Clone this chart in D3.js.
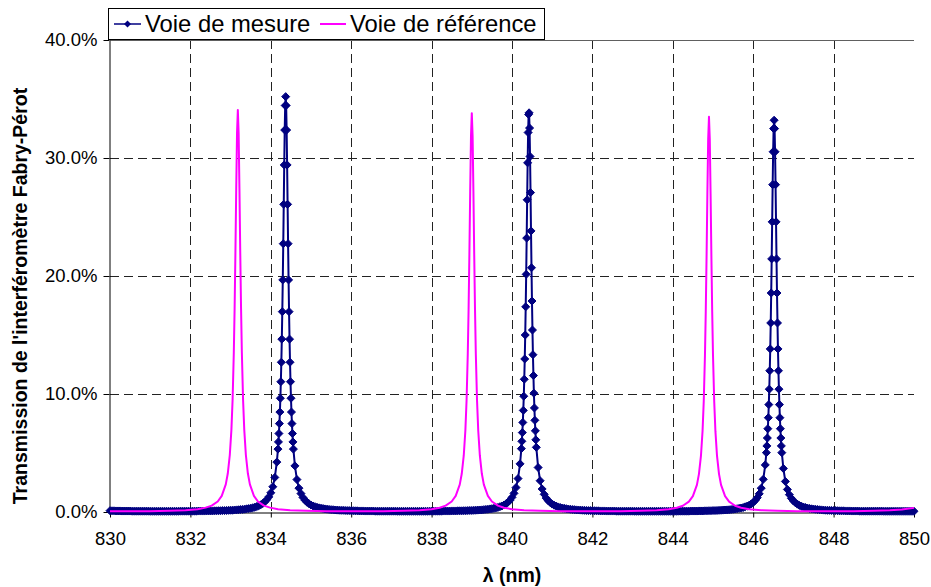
<!DOCTYPE html>
<html>
<head>
<meta charset="utf-8">
<script src="https://cdn.jsdelivr.net/npm/d3@7"></script>
<style>
  html, body { margin: 0; padding: 0; background: #fff; }
  svg { display: block; font-family: Arial, "Liberation Sans", sans-serif; }
</style>
</head>
<body>
<svg id="chart" width="931" height="587"></svg>
<script>
// Transmission spectra of the Fabry-Pérot interferometer (values in %)

// Measurement channel: wavelengths (nm)
const mesureLambda = [
  830.00,830.05,830.10,830.15,830.20,830.25,830.30,830.35,830.40,830.45,830.50,830.55,830.60,830.65,830.70,830.75,830.80,830.85,830.90,830.95,
  831.00,831.05,831.10,831.15,831.20,831.25,831.30,831.35,831.40,831.45,831.50,831.55,831.60,831.65,831.70,831.75,831.80,831.85,831.90,831.95,
  832.00,832.05,832.10,832.15,832.20,832.25,832.30,832.35,832.40,832.45,832.50,832.55,832.60,832.65,832.70,832.75,832.80,832.85,832.90,832.95,
  833.00,833.05,833.10,833.15,833.20,833.25,833.30,833.35,833.40,833.45,833.50,833.55,833.60,833.65,833.70,833.75,833.80,833.85,833.90,833.95,
  834.00,834.05,834.10,834.15,
  834.178,834.190,834.202,834.214,834.226,834.238,834.250,834.262,834.274,834.286,834.298,834.310,834.322,834.334,834.346,834.358,834.370,
  834.382,834.394,834.406,834.418,834.430,834.442,834.454,834.466,834.478,834.490,834.502,834.514,834.526,834.538,834.550,834.562,
  834.60,834.65,834.70,834.75,834.80,834.85,834.90,834.95,
  835.00,835.05,835.10,835.15,835.20,835.25,835.30,835.35,835.40,835.45,835.50,835.55,835.60,835.65,835.70,835.75,835.80,835.85,835.90,835.95,
  836.00,836.05,836.10,836.15,836.20,836.25,836.30,836.35,836.40,836.45,836.50,836.55,836.60,836.65,836.70,836.75,836.80,836.85,836.90,836.95,
  837.00,837.05,837.10,837.15,837.20,837.25,837.30,837.35,837.40,837.45,837.50,837.55,837.60,837.65,837.70,837.75,837.80,837.85,837.90,837.95,
  838.00,838.05,838.10,838.15,838.20,838.25,838.30,838.35,838.40,838.45,838.50,838.55,838.60,838.65,838.70,838.75,838.80,838.85,838.90,838.95,
  839.00,839.05,839.10,839.15,839.20,839.25,839.30,839.35,839.40,839.45,839.50,839.55,839.60,839.65,839.70,839.75,839.80,839.85,839.90,839.95,
  840.00,840.05,840.10,840.15,840.20,
  840.233,840.245,840.257,840.269,840.281,840.293,840.305,840.317,840.329,840.341,840.353,840.365,840.377,840.389,840.401,840.413,
  840.425,840.437,840.449,840.461,840.473,840.485,840.497,840.509,840.521,840.533,840.545,840.557,840.569,840.581,840.593,840.605,
  840.65,840.70,840.75,840.80,840.85,840.90,840.95,
  841.00,841.05,841.10,841.15,841.20,841.25,841.30,841.35,841.40,841.45,841.50,841.55,841.60,841.65,841.70,841.75,841.80,841.85,841.90,841.95,
  842.00,842.05,842.10,842.15,842.20,842.25,842.30,842.35,842.40,842.45,842.50,842.55,842.60,842.65,842.70,842.75,842.80,842.85,842.90,842.95,
  843.00,843.05,843.10,843.15,843.20,843.25,843.30,843.35,843.40,843.45,843.50,843.55,843.60,843.65,843.70,843.75,843.80,843.85,843.90,843.95,
  844.00,844.05,844.10,844.15,844.20,844.25,844.30,844.35,844.40,844.45,844.50,844.55,844.60,844.65,844.70,844.75,844.80,844.85,844.90,844.95,
  845.00,845.05,845.10,845.15,845.20,845.25,845.30,845.35,845.40,845.45,845.50,845.55,845.60,845.65,845.70,845.75,845.80,845.85,845.90,845.95,
  846.00,846.05,846.10,846.15,846.20,846.25,846.30,
  846.328,846.340,846.352,846.364,846.376,846.388,846.400,846.412,846.424,846.436,846.448,846.460,846.472,846.484,846.496,846.508,846.520,
  846.532,846.544,846.556,846.568,846.580,846.592,846.604,846.616,846.628,846.640,846.652,846.664,846.676,846.688,846.700,846.712,
  846.75,846.80,846.85,846.90,846.95,
  847.00,847.05,847.10,847.15,847.20,847.25,847.30,847.35,847.40,847.45,847.50,847.55,847.60,847.65,847.70,847.75,847.80,847.85,847.90,847.95,
  848.00,848.05,848.10,848.15,848.20,848.25,848.30,848.35,848.40,848.45,848.50,848.55,848.60,848.65,848.70,848.75,848.80,848.85,848.90,848.95,
  849.00,849.05,849.10,849.15,849.20,849.25,849.30,849.35,849.40,849.45,849.50,849.55,849.60,849.65,849.70,849.75,849.80,849.85,849.90,849.95,
  850.00
];

// Measurement channel: transmission (%)
const mesureT = [
  0.11,0.10,0.10,0.09,0.09,0.09,0.08,0.08,0.08,0.08,0.08,0.07,0.07,0.07,0.07,0.07,0.07,0.07,0.07,0.07,
  0.06,0.06,0.06,0.06,0.06,0.06,0.06,0.06,0.06,0.06,0.06,0.06,0.06,0.06,0.06,0.07,0.07,0.07,0.07,0.07,
  0.07,0.07,0.07,0.07,0.08,0.08,0.08,0.08,0.09,0.09,0.09,0.09,0.10,0.10,0.11,0.11,0.12,0.12,0.13,0.14,
  0.15,0.15,0.17,0.18,0.19,0.21,0.22,0.24,0.27,0.29,0.32,0.36,0.41,0.46,0.53,0.61,0.72,0.86,1.04,1.28,
  1.63,2.14,2.93,4.23,
  5.33,5.94,6.65,7.49,8.47,9.64,11.04,12.69,14.65,16.98,19.67,22.74,26.07,29.41,32.37,34.45,35.20,
  34.45,32.37,29.41,26.07,22.74,19.67,16.98,14.65,12.69,11.04,9.64,8.47,7.49,6.65,5.94,5.33,
  3.91,2.75,2.02,1.56,1.23,1.00,0.83,0.70,
  0.59,0.51,0.45,0.40,0.35,0.32,0.29,0.26,0.24,0.22,0.20,0.19,0.17,0.16,0.15,0.14,0.14,0.13,0.12,0.12,
  0.11,0.11,0.10,0.10,0.09,0.09,0.09,0.08,0.08,0.08,0.08,0.08,0.07,0.07,0.07,0.07,0.07,0.07,0.07,0.07,
  0.07,0.07,0.07,0.06,0.06,0.06,0.06,0.06,0.06,0.06,0.06,0.06,0.06,0.06,0.06,0.06,0.06,0.06,0.06,0.07,
  0.07,0.07,0.07,0.07,0.07,0.07,0.08,0.08,0.08,0.08,0.09,0.09,0.09,0.10,0.10,0.10,0.11,0.11,0.12,0.13,
  0.13,0.14,0.15,0.16,0.17,0.18,0.20,0.22,0.23,0.26,0.28,0.31,0.35,0.39,0.45,0.51,0.59,0.69,0.83,1.00,
  1.24,1.58,2.07,2.83,4.08,
  5.37,5.99,6.73,7.59,8.61,9.81,11.25,12.97,15.00,17.39,20.14,23.21,26.46,29.59,32.16,33.69,
  33.83,32.54,30.13,27.07,23.82,20.70,17.88,15.42,13.33,11.56,10.07,8.82,7.77,6.88,6.12,5.48,
  3.77,2.65,1.95,1.50,1.18,0.96,0.80,
  0.67,0.57,0.50,0.43,0.38,0.34,0.31,0.28,0.25,0.23,0.21,0.20,0.18,0.17,0.16,0.15,0.14,0.13,0.12,0.12,
  0.11,0.11,0.10,0.10,0.09,0.09,0.09,0.08,0.08,0.08,0.08,0.08,0.07,0.07,0.07,0.07,0.07,0.07,0.07,0.07,
  0.07,0.06,0.06,0.06,0.06,0.06,0.06,0.06,0.06,0.06,0.06,0.06,0.06,0.06,0.06,0.06,0.06,0.06,0.06,0.06,
  0.06,0.06,0.06,0.07,0.07,0.07,0.07,0.07,0.07,0.08,0.08,0.08,0.08,0.09,0.09,0.09,0.10,0.10,0.11,0.11,
  0.12,0.12,0.13,0.14,0.15,0.16,0.17,0.18,0.19,0.21,0.23,0.25,0.28,0.31,0.34,0.38,0.44,0.50,0.58,0.68,
  0.81,0.98,1.21,1.54,2.02,2.77,3.99,
  5.03,5.60,6.27,7.06,7.99,9.10,10.41,11.97,13.82,16.02,18.56,21.45,24.59,27.74,30.53,32.49,33.20,
  32.49,30.53,27.74,24.59,21.45,18.56,16.02,13.82,11.97,10.41,9.10,7.99,7.06,6.27,5.60,5.03,
  3.69,2.59,1.91,1.47,1.16,
  0.94,0.78,0.66,0.56,0.49,0.42,0.38,0.33,0.30,0.27,0.25,0.23,0.21,0.19,0.18,0.16,0.15,0.14,0.14,0.13,
  0.12,0.12,0.11,0.10,0.10,0.10,0.09,0.09,0.09,0.08,0.08,0.08,0.08,0.07,0.07,0.07,0.07,0.07,0.07,0.07,
  0.07,0.07,0.07,0.07,0.07,0.06,0.06,0.06,0.06,0.06,0.06,0.06,0.06,0.06,0.06,0.06,0.06,0.06,0.06,0.06,
  0.06
];

// Reference channel: wavelengths (nm)
const refLambda = [
  830.00,830.98,831.48,831.88,832.18,832.38,832.53,832.68,832.78,832.88,832.93,832.98,833.02,833.05,833.08,833.10,833.12,833.14,833.16,
  833.18,
  833.20,833.22,833.24,833.26,833.28,833.31,833.34,833.38,833.43,833.48,833.58,833.68,833.83,833.98,834.18,834.48,834.88,835.38,836.08,
  836.80,837.30,837.70,838.00,838.20,838.35,838.50,838.60,838.70,838.75,838.80,838.84,838.87,838.90,838.92,838.94,838.96,838.98,
  839.00,
  839.02,839.04,839.06,839.08,839.10,839.13,839.16,839.20,839.25,839.30,839.40,839.50,839.65,839.80,840.00,840.30,840.70,841.20,841.95,
  842.70,843.20,843.60,843.90,844.10,844.25,844.40,844.50,844.60,844.65,844.70,844.74,844.77,844.80,844.82,844.84,844.86,844.88,
  844.90,
  844.92,844.94,844.96,844.98,845.00,845.03,845.06,845.10,845.15,845.20,845.30,845.40,845.55,845.70,845.90,846.20,846.60,847.10,847.80,
  848.50,849.00,849.40,849.70,850.00
];

// Reference channel: transmission (%)
const refT = [
  0.06,0.07,0.10,0.15,0.24,0.37,0.54,0.89,1.37,2.34,3.26,4.83,6.96,9.54,13.52,17.27,22.02,27.40,32.12,
  34.07,
  32.12,27.40,22.02,17.27,13.52,9.54,6.96,4.83,3.26,2.34,1.37,0.89,0.54,0.37,0.24,0.15,0.10,0.07,0.06,
  0.07,0.10,0.15,0.24,0.36,0.54,0.89,1.36,2.32,3.24,4.79,6.91,9.47,13.41,17.13,21.84,27.19,31.86,
  33.80,
  31.86,27.19,21.84,17.13,13.41,9.47,6.91,4.79,3.24,2.32,1.36,0.89,0.54,0.36,0.24,0.15,0.10,0.07,0.06,
  0.07,0.10,0.15,0.24,0.36,0.53,0.88,1.34,2.30,3.21,4.75,6.85,9.38,13.29,16.98,21.65,26.94,31.58,
  33.50,
  31.58,26.94,21.65,16.98,13.29,9.38,6.85,4.75,3.21,2.30,1.34,0.88,0.53,0.36,0.24,0.15,0.10,0.07,0.06,
  0.07,0.10,0.14,0.22,0.35
];

const xTicks = [830, 832, 834, 836, 838, 840, 842, 844, 846, 848, 850];
const yTicks = [0, 10, 20, 30, 40];
const seriesNames = ["Voie de mesure", "Voie de référence"];
const xTitle = "λ (nm)";
const yTitle = "Transmission de l'interféromètre Fabry-Pérot";

const colMesure = "#000080";
const colRef = "#FF00FF";

const svg = d3.select("#chart");
const W = 931, H = 587;
const plot = { left: 110, right: 914, top: 40, bottom: 512 };

const x = d3.scaleLinear().domain([830, 850]).range([plot.left, plot.right]);
const y = d3.scaleLinear().domain([0, 40]).range([plot.bottom, plot.top]);

svg.append("rect").attr("width", W).attr("height", H).attr("fill", "#fff");

// Dashed grid
const grid = svg.append("g").attr("stroke", "#222").attr("stroke-width", 1).attr("stroke-dasharray", "9,5");
grid.selectAll("line.v").data(xTicks.filter(d => d > 830 && d < 850)).join("line")
  .attr("class", "v")
  .attr("x1", d => Math.round(x(d)) + 0.5).attr("x2", d => Math.round(x(d)) + 0.5)
  .attr("y1", y(40)).attr("y2", y(0));
grid.selectAll("line.h").data(yTicks.filter(d => d > 0 && d < 40)).join("line")
  .attr("class", "h")
  .attr("y1", d => Math.round(y(d)) + 0.5).attr("y2", d => Math.round(y(d)) + 0.5)
  .attr("x1", x(830)).attr("x2", x(850));

// Top border of the plot area
svg.append("line")
  .attr("x1", x(830)).attr("x2", x(850))
  .attr("y1", y(40) + 0.5).attr("y2", y(40) + 0.5)
  .attr("stroke", "#606060").attr("stroke-width", 1);

// Axes
const xAxis = d3.axisBottom(x).tickValues(xTicks).tickSize(5).tickSizeOuter(0).tickFormat(d3.format("d"));
const yAxis = d3.axisLeft(y).tickValues(yTicks).tickSize(6).tickSizeOuter(0).tickFormat(d => d.toFixed(1) + "%");

const gx = svg.append("g").attr("transform", `translate(0,${plot.bottom + 0.5})`).call(xAxis);
gx.select(".domain").attr("stroke", "#000");
gx.selectAll(".tick line").attr("stroke", "#000");
gx.selectAll(".tick text").attr("font-size", 18.5).attr("font-family", "Arial, 'Liberation Sans', sans-serif")
  .attr("fill", "#000").attr("dy", "1.35em");

const gy = svg.append("g").attr("transform", `translate(${plot.left - 0.5},0)`).call(yAxis);
gy.select(".domain").attr("stroke", "#000");
gy.selectAll(".tick line").attr("stroke", "#000");
gy.selectAll(".tick text").attr("font-size", 18.5).attr("font-family", "Arial, 'Liberation Sans', sans-serif")
  .attr("fill", "#000").attr("x", -12);

// Axis titles
svg.append("text")
  .attr("x", (plot.left + plot.right) / 2).attr("y", 582)
  .attr("text-anchor", "middle").attr("font-weight", "bold").attr("font-size", 19.5)
  .text(xTitle);
svg.append("text")
  .attr("transform", "translate(27,296) rotate(-90)")
  .attr("text-anchor", "middle").attr("font-weight", "bold").attr("font-size", 19.5)
  .text(yTitle);

// Series data
const mesure = mesureLambda.map((l, i) => ({ l, t: mesureT[i] }));
const ref = refLambda.map((l, i) => ({ l, t: refT[i] }));

const line = d3.line().x(d => x(d.l)).y(d => y(d.t));
const diamond = r => `M0,${-r}L${r},0L0,${r}L${-r},0Z`;

// Measurement channel: line + diamond markers
svg.append("path").datum(mesure)
  .attr("d", line).attr("fill", "none").attr("stroke", colMesure).attr("stroke-width", 2);
svg.append("g").selectAll("path").data(mesure).join("path")
  .attr("transform", d => `translate(${x(d.l)},${y(d.t)})`)
  .attr("d", diamond(4)).attr("fill", colMesure).attr("stroke", colMesure).attr("stroke-width", 1);

// Reference channel: line
svg.append("path").datum(ref)
  .attr("d", line).attr("fill", "none").attr("stroke", colRef).attr("stroke-width", 2)
  .attr("stroke-linejoin", "round");

// Legend
const lg = svg.append("g");
lg.append("rect").attr("x", 108.5).attr("y", 8.5).attr("width", 436).attr("height", 31)
  .attr("fill", "#fff").attr("stroke", "#000").attr("stroke-width", 1);
lg.append("line").attr("x1", 114).attr("x2", 141).attr("y1", 24).attr("y2", 24)
  .attr("stroke", colMesure).attr("stroke-width", 1.5);
lg.append("path").attr("transform", "translate(127.5,24)").attr("d", diamond(3.5)).attr("fill", colMesure);
lg.append("text").attr("x", 145).attr("y", 32).attr("font-size", 23.8).text(seriesNames[0]);
lg.append("line").attr("x1", 320).attr("x2", 346).attr("y1", 24).attr("y2", 24)
  .attr("stroke", colRef).attr("stroke-width", 2);
lg.append("text").attr("x", 350).attr("y", 32).attr("font-size", 23.8).text(seriesNames[1]);
</script>
</body>
</html>
